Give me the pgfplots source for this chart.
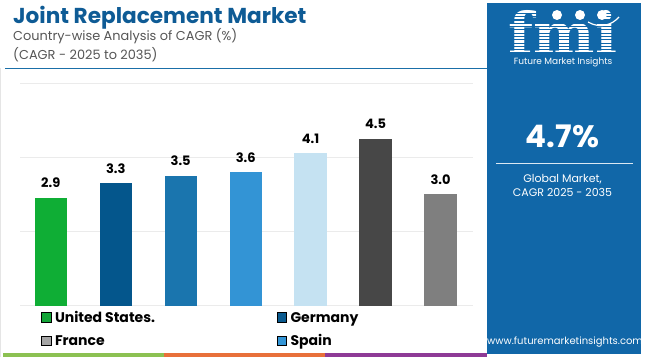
\documentclass[border=0pt]{standalone}
\usepackage{pgfplots}
\pgfplotsset{compat=1.18}
\usepackage{fontspec}
\setmainfont{Poppins}
\newfontfamily\logofont{DejaVu Serif}
\definecolor{titleblue}{HTML}{0E5B95}
\definecolor{subgray}{HTML}{555555}
\definecolor{lineblue}{HTML}{1A6FA8}
\definecolor{panel}{HTML}{1167A8}
\definecolor{gridgray}{HTML}{EBEBEB}
\definecolor{cA}{HTML}{0FAE35}
\definecolor{cB}{HTML}{04568C}
\definecolor{cC}{HTML}{1A75AE}
\definecolor{cD}{HTML}{3394D5}
\definecolor{cE}{HTML}{C5E2F2}
\definecolor{cF}{HTML}{474747}
\definecolor{cG}{HTML}{7F7F7F}
\definecolor{lUS}{HTML}{13A538}
\definecolor{lDE}{HTML}{0A5A8F}
\definecolor{lFR}{HTML}{A5A5A5}
\definecolor{lES}{HTML}{3395D6}
\definecolor{sGreen}{HTML}{8CC152}
\definecolor{sOrange}{HTML}{E8703A}
\definecolor{sPurple}{HTML}{8E3A96}
\pgfplotsset{legsq/.style={legend image code/.code={\fill[##1] (0pt,-4.8pt) rectangle (9.6pt,4.8pt);}}}
\newlength\uswidth
\newlength\colsepl
\begin{document}%
\settowidth{\uswidth}{\bfseries\fontsize{14}{16}\selectfont United States.}%
\setlength\colsepl{221.5pt}%
\addtolength\colsepl{-\uswidth}%
\begin{tikzpicture}[x=1pt,y=1pt]
\useasboundingbox (0,0) rectangle (650,357);
% left border
\draw[gray!20, line width=0.8pt] (0.8,0) -- (0.8,289);
% title
\node[anchor=base west, inner sep=0pt, text=titleblue, font=\bfseries\fontsize{21.6}{24}\selectfont] at (13,333) {Joint Replacement Market};
\node[anchor=base west, inner sep=0pt, text=subgray, font=\fontsize{12.9}{15}\selectfont] at (13,316.3) {Country-wise Analysis of CAGR (\%)};
\node[anchor=base west, inner sep=0pt, text=subgray, font=\fontsize{12.9}{15}\selectfont] at (13,297.7) {(CAGR - 2025 to 2035)};
\draw[lineblue, line width=1pt] (5,289) -- (487,289);
% bottom strips
\fill[sGreen] (3,0) rectangle (164,3.7);
\fill[sOrange] (164,0) rectangle (325,3.7);
\fill[sPurple] (325,0) rectangle (487,3.7);
% right panel
\fill[panel] (487,3) rectangle (641,354);
\node[anchor=base, inner sep=0pt, text depth=0pt, text=white, font=\logofont\bfseries\fontsize{58}{60}\selectfont] at (563,302) {fmi};
\begin{scope}
\clip (500,302.5) rectangle (630,346);
\foreach \yy in {304,307.3,...,346} {\draw[panel, line width=1.1pt] (500,\yy) -- (630,\yy);}
\end{scope}
\fill[white] (557,342) circle (5);
\fill[white] (580,342) circle (5);
\fill[white] (602,342) circle (5);
\draw[white, line width=1.2pt] (588,335) .. controls (600,328) and (612,332) .. (619,340);
\node[anchor=base, inner sep=0pt, text=white, font=\fontsize{9}{11}\selectfont] at (563,293) {Future Market Insights};
\node[anchor=base, inner sep=0pt, text=white, font=\bfseries\fontsize{31}{36}\selectfont] at (562.5,210) {4.7\%};
\draw[white!85!panel, line width=1pt] (496,194) -- (633,194);
\node[anchor=base, inner sep=0pt, text=white, font=\fontsize{11}{13}\selectfont] at (562.5,174.5) {Global Market,};
\node[anchor=base, inner sep=0pt, text=white, font=\fontsize{11}{13}\selectfont] at (562.5,161) {CAGR 2025 - 2035};
\node[anchor=base, inner sep=0pt, text=white, font=\fontsize{10}{12}\selectfont] at (565,13) {www.futuremarketinsights.com};
% chart
\begin{axis}[
  at={(20pt,51.5pt)}, anchor=south west,
  width=453pt, height=222.5pt, scale only axis,
  xmin=-0.474, xmax=6.5, ymin=0, ymax=6,
  axis line style={draw=none},
  xtick=\empty, ytick=\empty,
  tick style={draw=none},
  ybar, bar width=32.3pt, bar shift=0pt,
  /pgf/number format/assume math mode=true,
  nodes near coords={\pgfmathprintnumber[fixed,fixed zerofill,precision=1]{\pgfplotspointmeta}},
  nodes near coords style={font=\bfseries\fontsize{13}{15}\selectfont, text=black, anchor=base, yshift=10pt},
  legend columns=2, legend cell align=left,
  legend style={at={(axis description cs:0.04636,-0.03056)}, anchor=north west,
    draw=none, fill=none, inner sep=0pt, outer sep=0pt,
    font=\bfseries\fontsize{14}{16}\selectfont,
    nodes={inner sep=0pt, text height=10pt, text depth=0pt},
    row sep=13.4pt,
    /tikz/every odd column/.append style={column sep=4pt},
    /tikz/every even column/.append style={column sep=\colsepl}},
]
\draw[gridgray, line width=0.8pt] (axis cs:-0.474,0) -- (axis cs:6.5,0);
\draw[gridgray, line width=0.8pt] (axis cs:-0.474,2) -- (axis cs:6.5,2);
\draw[gridgray, line width=0.8pt] (axis cs:-0.474,4) -- (axis cs:6.5,4);
\draw[gridgray, line width=0.8pt] (axis cs:-0.474,6) -- (axis cs:6.5,6);
\addplot[fill=cA, draw=none, forget plot] coordinates {(0,2.9)};
\addplot[fill=cB, draw=none, forget plot] coordinates {(1,3.3)};
\addplot[fill=cC, draw=none, forget plot] coordinates {(2,3.5)};
\addplot[fill=cD, draw=none, forget plot] coordinates {(3,3.6)};
\addplot[fill=cE, draw=none, forget plot] coordinates {(4,4.1)};
\addplot[fill=cF, draw=none, forget plot] coordinates {(5,4.5)};
\addplot[fill=cG, draw=none, forget plot] coordinates {(6,3.0)};
\addlegendimage{legsq, fill=lUS}
\addlegendentry{United States.}
\addlegendimage{legsq, fill=lDE}
\addlegendentry{Germany}
\addlegendimage{legsq, fill=lFR}
\addlegendentry{France}
\addlegendimage{legsq, fill=lES}
\addlegendentry{Spain}
\end{axis}
\end{tikzpicture}%
\end{document}
